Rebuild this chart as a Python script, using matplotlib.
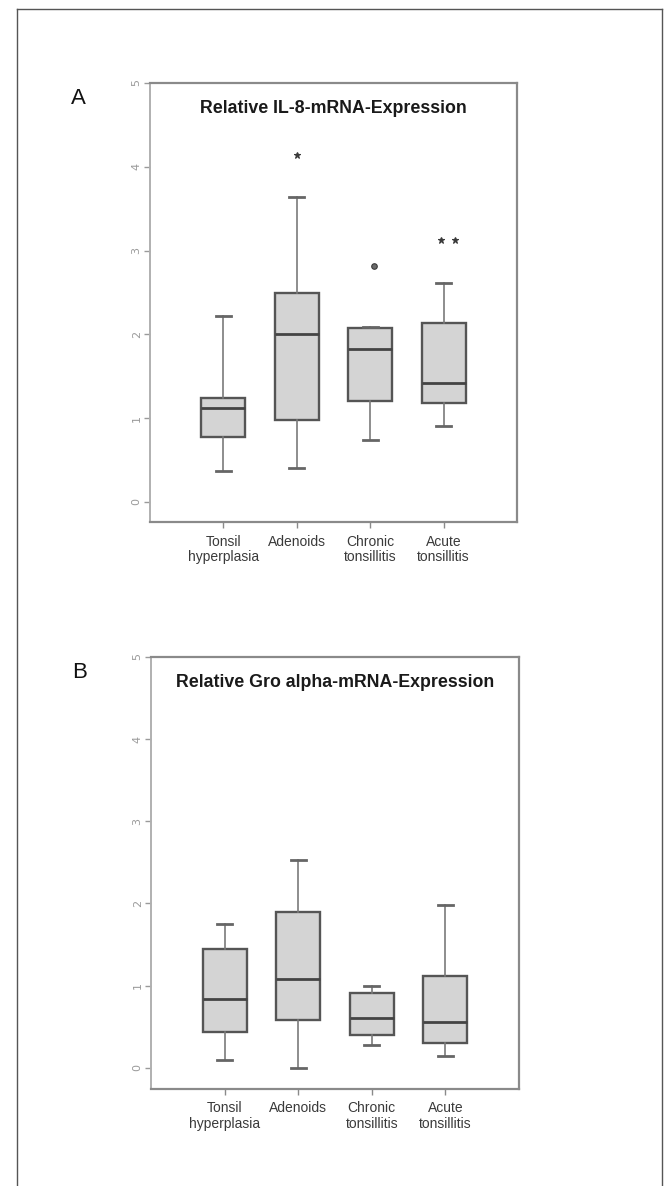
import matplotlib
matplotlib.use("Agg")
import matplotlib.pyplot as plt
from matplotlib.lines import Line2D

categories = ["Tonsil\nhyperplasia", "Adenoids", "Chronic\ntonsillitis", "Acute\ntonsillitis"]
yticks = [0, 1, 2, 3, 4, 5]

# Panel A: IL-8
a_whislo = [0.37, 0.41, 0.74, 0.90]
a_q1 = [0.78, 0.98, 1.21, 1.18]
a_med = [1.12, 2.00, 1.82, 1.42]
a_q3 = [1.24, 2.49, 2.07, 2.14]
a_whishi = [2.22, 3.64, 2.09, 2.61]
a_fliers = [[], [4.14], [2.81], [3.13, 3.13]]
a_flier_offsets = [[], [0.0], [0.05], [-0.03, 0.16]]

# Panel B: Gro alpha
b_whislo = [0.09, 0.00, 0.27, 0.14]
b_q1 = [0.44, 0.58, 0.40, 0.30]
b_med = [0.84, 1.08, 0.61, 0.55]
b_q3 = [1.44, 1.90, 0.91, 1.12]
b_whishi = [1.75, 2.53, 0.99, 1.98]

titles = ["Relative IL-8-mRNA-Expression", "Relative Gro alpha-mRNA-Expression"]
panel_labels = ["A", "B"]

W, H = 664, 1186
fig = plt.figure(figsize=(W / 100, H / 100), dpi=100)

# outer border
bc = "#555555"
fig.add_artist(Line2D([17 / W, 17 / W], [0, 1 - 9 / H], color=bc, lw=1.0, transform=fig.transFigure))
fig.add_artist(Line2D([17 / W, 662 / W], [1 - 9 / H, 1 - 9 / H], color=bc, lw=1.0, transform=fig.transFigure))
fig.add_artist(Line2D([662 / W, 662 / W], [0, 1 - 9 / H], color=bc, lw=1.0, transform=fig.transFigure))


def make_axes(left, right, top, bottom):
    return fig.add_axes([left / W, 1 - bottom / H, (right - left) / W, (bottom - top) / H])


axA = make_axes(150, 517, 83, 522)
axB = make_axes(151, 519, 657, 1089)

label_font = ["Liberation Sans Narrow", "Liberation Sans", "DejaVu Sans"]


def draw(ax, lo, q1, med, q3, hi, ylow, title):
    stats = []
    for i in range(len(categories)):
        stats.append(dict(whislo=lo[i], q1=q1[i], med=med[i], q3=q3[i], whishi=hi[i], fliers=[]))
    pos = list(range(1, len(categories) + 1))
    ax.bxp(stats, positions=pos, widths=0.6, capwidths=0.2, patch_artist=True, showfliers=False,
           boxprops=dict(facecolor="#d4d4d4", edgecolor="#555555", linewidth=1.7),
           medianprops=dict(color="#444444", linewidth=2.0),
           whiskerprops=dict(color="#7a7a7a", linewidth=1.2),
           capprops=dict(color="#666666", linewidth=2.0))
    ax.set_xlim(0, 5)
    ax.set_ylim(ylow, 5)
    ax.set_yticks(yticks)
    ax.set_yticklabels([str(t) for t in yticks], rotation=90, va="center", color="#9a9a9a", fontsize=8)
    ax.set_xticks(pos)
    ax.set_xticklabels(categories, fontsize=10, color="#3a3a3a", family=label_font, linespacing=1.1)
    ax.tick_params(axis="y", direction="out", length=4, width=1.0, color="#9a9a9a", pad=2)
    ax.tick_params(axis="x", direction="out", length=4, width=1.0, color="#8a8a8a", pad=5)
    for s in ["top", "right", "bottom"]:
        ax.spines[s].set_color("#8a8a8a")
        ax.spines[s].set_linewidth(1.6)
    ax.spines["left"].set_color("#b0b0b0")
    ax.spines["left"].set_linewidth(1.4)
    ax.text(0.5, 0.942, title, transform=ax.transAxes, ha="center", va="center",
            fontsize=12.8, color="#1a1a1a", family=["Liberation Sans", "DejaVu Sans"], weight="bold")


draw(axA, a_whislo, a_q1, a_med, a_q3, a_whishi, -0.24, titles[0])
draw(axB, b_whislo, b_q1, b_med, b_q3, b_whishi, -0.26, titles[1])

for i, (vals, offs) in enumerate(zip(a_fliers, a_flier_offsets)):
    for v, o in zip(vals, offs):
        marker = "o" if i == 2 else "*"
        axA.plot(i + 1 + o, v, marker=marker, ms=5 if marker == "*" else 4,
                 color="#3a3a3a", mfc="#6a6a6a" if marker == "o" else "#3a3a3a", mew=0.8, ls="none")

fig.text(78 / W, 1 - 99 / H, panel_labels[0], ha="center", va="center", fontsize=16,
         family=["Liberation Sans", "DejaVu Sans"], color="#111111")
fig.text(80 / W, 1 - 673 / H, panel_labels[1], ha="center", va="center", fontsize=16,
         family=["Liberation Sans", "DejaVu Sans"], color="#111111")

fig.savefig("out.png", dpi=100)
